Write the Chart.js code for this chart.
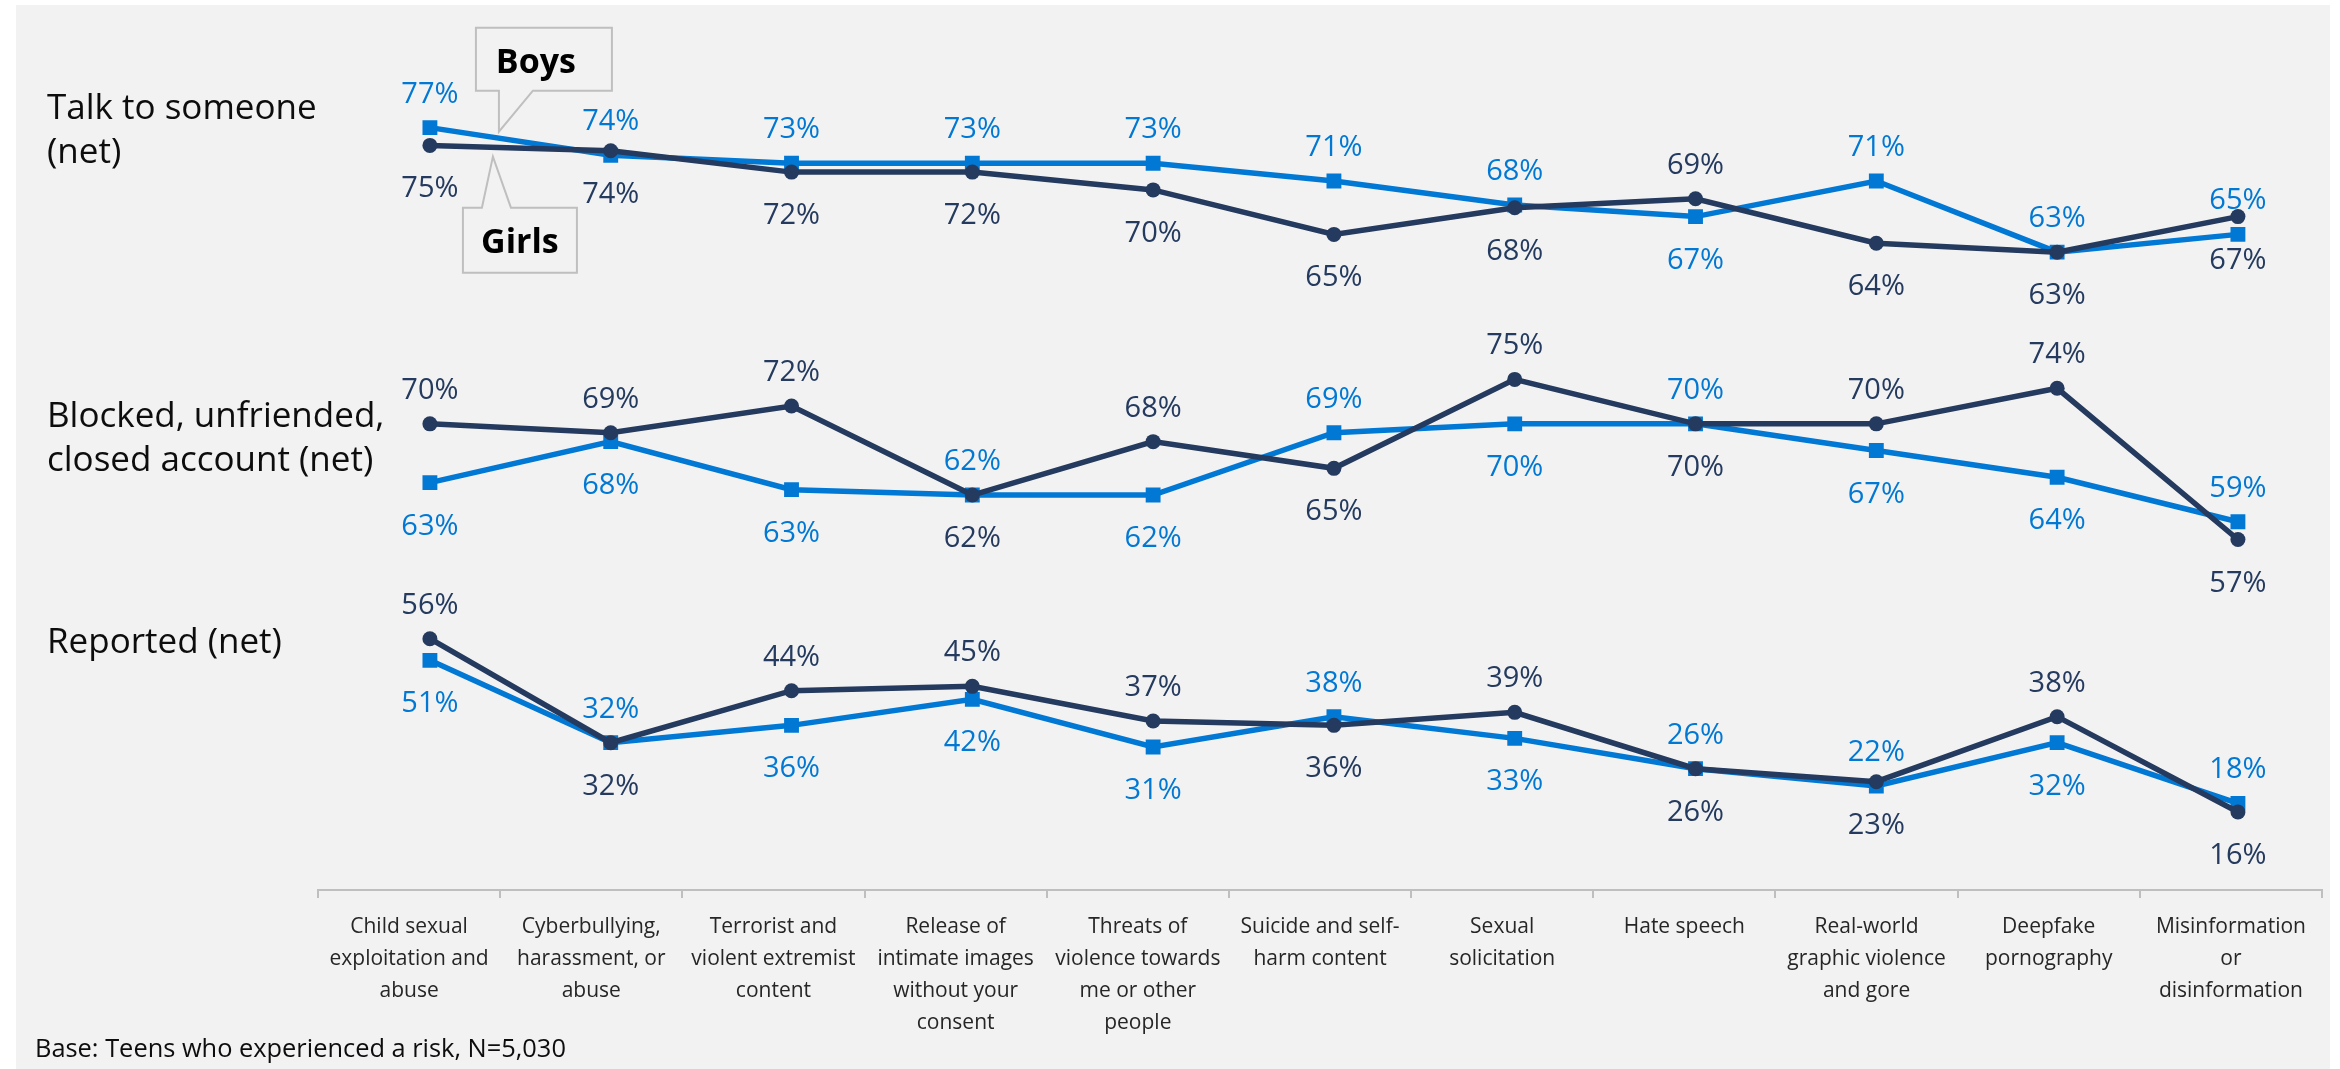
<!DOCTYPE html>
<html>
<head>
<meta charset="utf-8">
<script src="https://cdn.jsdelivr.net/npm/chart.js@4.4.1/dist/chart.umd.min.js"></script>
<style>
  html, body { margin: 0; padding: 0; background: #ffffff; }
  #wrap { width: 2340px; height: 1069px; }
</style>
</head>
<body>
<div id="wrap"><canvas id="c" width="2340" height="1069"></canvas></div>
<script>
// ---------------- DATA ----------------
const categories = [
  ["Child sexual", "exploitation and", "abuse"],
  ["Cyberbullying,", "harassment, or", "abuse"],
  ["Terrorist and", "violent extremist", "content"],
  ["Release of", "intimate images", "without your", "consent"],
  ["Threats of", "violence towards", "me or other", "people"],
  ["Suicide and self-", "harm content"],
  ["Sexual", "solicitation"],
  ["Hate speech"],
  ["Real-world", "graphic violence", "and gore"],
  ["Deepfake", "pornography"],
  ["Misinformation", "or", "disinformation"]
];
const seriesNames = ["Boys", "Girls"];
const groupTitles = [
  ["Talk to someone", "(net)"],
  ["Blocked, unfriended,", "closed account (net)"],
  ["Reported (net)"]
];
const talkBoys      = [77, 73.9, 73, 73, 73, 71, 68.3, 67, 71, 63, 65];
const talkGirls     = [75, 74.4, 72, 72, 70, 65, 68, 69, 64, 63, 67];
const blockedBoys   = [63.4, 68, 62.6, 62, 62, 69, 70, 70, 67, 64, 59];
const blockedGirls  = [70, 69, 72, 62, 68, 65, 75, 70, 70, 74, 57];
const reportedBoys  = [51, 32, 36, 42, 31, 38, 33, 26, 22, 32, 18];
const reportedGirls = [56, 32, 44, 45, 37, 36, 39, 26, 23, 38, 16];
const footnote = "Base: Teens who experienced a risk, N=5,030";

// which series' label sits above the points (B = Boys, G = Girls)
const talkLabelTop     = ["B","B","B","B","B","B","B","G","B","B","B"];
const blockedLabelTop  = ["G","G","G","B","G","B","G","B","G","G","B"];
const reportedLabelTop = ["G","B","G","G","G","B","G","B","B","G","B"];

// ---------------- STYLE ----------------
const BOYS_COLOR = "#0078d4";
const GIRLS_COLOR = "#243a5e";
const FONT = "'Open Sans', 'Noto Sans', 'DejaVu Sans', sans-serif";

const groups = [
  { id: "yTalk", boys: talkBoys, girls: talkGirls, top: talkLabelTop, min: 55.3, max: 87.3, weight: 3 },
  { id: "yBlocked", boys: blockedBoys, girls: blockedGirls, top: blockedLabelTop, min: 49.6, max: 81.6, weight: 2 },
  { id: "yReported", boys: reportedBoys, girls: reportedGirls, top: reportedLabelTop, min: -2, max: 63.7, weight: 1 }
];

const datasets = [];
groups.forEach((g, gi) => {
  datasets.push({
    label: seriesNames[1] + " " + gi,
    data: g.girls.map((v, i) => ({ x: i, y: v })),
    yAxisID: g.id, xAxisID: "xd",
    borderColor: GIRLS_COLOR, backgroundColor: GIRLS_COLOR,
    borderWidth: 5.5, pointStyle: "circle", pointRadius: 7.5,
    pointBorderWidth: 0, order: 0, tension: 0,
    _series: "G", _group: gi
  });
  datasets.push({
    label: seriesNames[0] + " " + gi,
    data: g.boys.map((v, i) => ({ x: i, y: v })),
    yAxisID: g.id, xAxisID: "xd",
    borderColor: BOYS_COLOR, backgroundColor: BOYS_COLOR,
    borderWidth: 5.5, pointStyle: "rect", pointRadius: 10.5,
    pointBorderWidth: 0, order: 1, tension: 0,
    _series: "B", _group: gi
  });
});

const yScales = {};
groups.forEach(g => {
  yScales[g.id] = {
    type: "linear", position: "left", stack: "groups", stackWeight: 1,
    weight: g.weight, min: g.min, max: g.max, display: false
  };
});

// ---------------- PLUGIN: background, labels, titles, callouts ----------------
const decorations = {
  id: "decorations",
  beforeDraw(chart) {
    const ctx = chart.ctx;
    ctx.save();
    ctx.fillStyle = "#f2f2f2";
    ctx.fillRect(16, 5, 2314, 1064);
    ctx.restore();
  },
  afterDatasetsDraw(chart) {
    const ctx = chart.ctx;
    ctx.save();
    // data labels
    ctx.font = "29px " + FONT;
    ctx.textAlign = "center";
    ctx.textBaseline = "alphabetic";
    chart.data.datasets.forEach((ds, di) => {
      const meta = chart.getDatasetMeta(di);
      const g = groups[ds._group];
      meta.data.forEach((pt, i) => {
        const v = ds.data[i].y;
        const txt = Math.round(v) + "%";
        const above = g.top[i] === ds._series;
        ctx.fillStyle = ds.borderColor;
        ctx.fillText(txt, pt.x, above ? pt.y - 25 : pt.y + 52);
      });
    });

    // group titles
    ctx.textAlign = "left";
    ctx.fillStyle = "#0d0d0d";
    ctx.font = "35px " + FONT;
    const titleBase = [119, 427, 653];
    groupTitles.forEach((lines, gi) => {
      lines.forEach((ln, li) => ctx.fillText(ln, 47, titleBase[gi] + li * 44));
    });

    // callouts anchored to the first point of the "Talk" series
    const bp = chart.getDatasetMeta(1).data[0];
    const ax = bp.x, ay = bp.y;
    ctx.lineWidth = 2;
    ctx.strokeStyle = "#bfbfbf";
    ctx.fillStyle = "#f2f2f2";
    // Boys callout (wedge down)
    let L = ax + 46, T = ay - 100, R = ax + 182, B = ay - 37;
    ctx.beginPath();
    ctx.moveTo(L, T); ctx.lineTo(R, T); ctx.lineTo(R, B);
    ctx.lineTo(ax + 103, B); ctx.lineTo(ax + 69, ay + 4); ctx.lineTo(ax + 69, B);
    ctx.lineTo(L, B); ctx.closePath();
    ctx.fill(); ctx.stroke();
    ctx.fillStyle = "#000000";
    ctx.font = "bold 34px " + FONT;
    ctx.textAlign = "center";
    ctx.fillText(seriesNames[0], ax + 106, ay - 55);
    // Girls callout (wedge up)
    ctx.fillStyle = "#f2f2f2";
    L = ax + 33; T = ay + 80; R = ax + 147; B = ay + 145;
    ctx.beginPath();
    ctx.moveTo(L, T); ctx.lineTo(ax + 52, T); ctx.lineTo(ax + 63, ay + 29); ctx.lineTo(ax + 81, T);
    ctx.lineTo(R, T); ctx.lineTo(R, B); ctx.lineTo(L, B); ctx.closePath();
    ctx.fill(); ctx.stroke();
    ctx.fillStyle = "#000000";
    ctx.fillText(seriesNames[1], ax + 90, ay + 125);

    // footnote
    ctx.textAlign = "left";
    ctx.fillStyle = "#0d0d0d";
    ctx.font = "25.4px " + FONT;
    ctx.fillText(footnote, 35, 1057);
    ctx.restore();
  }
};

new Chart(document.getElementById("c"), {
  type: "line",
  data: { labels: categories, datasets },
  options: {
    responsive: false,
    animation: false,
    devicePixelRatio: 1,
    layout: { padding: { left: 318, right: 18, top: 36, bottom: 0 } },
    plugins: { legend: { display: false }, tooltip: { enabled: false }, title: { display: false } },
    scales: Object.assign({
      x: {
        type: "category", position: "bottom", offset: true,
        grid: { offset: true, drawOnChartArea: false, drawTicks: true, tickLength: 8, color: "#bfbfbf", lineWidth: 2 },
        border: { display: true, color: "#bfbfbf", width: 2 },
        ticks: { color: "#262626", font: { family: FONT, size: 21, lineHeight: 1.52 }, padding: 13, maxRotation: 0, autoSkip: false },
        afterFit(scale) { scale.height = 179; }
      },
      xd: {
        type: "linear", position: "bottom", display: false, min: -0.619, max: 10.465
      }
    }, yScales)
  },
  plugins: [decorations]
});
</script>
</body>
</html>
